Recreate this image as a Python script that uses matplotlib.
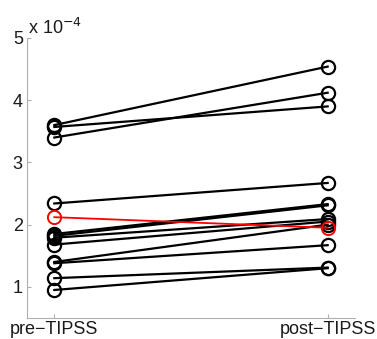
import matplotlib
matplotlib.use('Agg')
import matplotlib.pyplot as plt

plt.rcParams['font.family'] = ['Liberation Sans', 'DejaVu Sans']

# values in units of 1e-4
pre = [3.60, 3.57, 3.40, 2.34, 1.85, 1.82, 1.79, 1.68, 1.40, 1.38, 1.14, 0.95]
post = [4.54, 3.90, 4.12, 2.67, 2.33, 2.31, 2.09, 2.05, 2.00, 1.67, 1.31, 1.30]
red_pre = 2.12
red_post = 1.95
labels = ['pre\u2212TIPSS', 'post\u2212TIPSS']

fig = plt.figure(figsize=(3.77, 3.39), dpi=100)
ax = fig.add_axes([0.0716, 0.062, 0.870, 0.826])

for a, b in zip(pre, post):
    ax.plot([1, 2], [a, b], '-o', color='black', lw=1.6, ms=9.5,
            mfc='none', mew=1.6)
ax.plot([1, 2], [red_pre, red_post], '-o', color='red', lw=1.3, ms=9.5,
        mfc='none', mew=1.4)

ax.set_xlim(0.9, 2.1)
ax.set_ylim(0.5, 5)
ax.set_xticks([1, 2])
ax.set_xticklabels(labels)
ax.set_yticks([1, 2, 3, 4, 5])

for s in ['top', 'right']:
    ax.spines[s].set_visible(False)
for s in ['left', 'bottom']:
    ax.spines[s].set_color('#b0b0b0')
    ax.spines[s].set_linewidth(0.8)
ax.tick_params(direction='in', length=3, color='#b0b0b0', labelsize=13,
               labelcolor='#1a1a1a')
ax.tick_params(axis='y', pad=3)
ax.tick_params(axis='x', pad=2)

ax.text(0.003, 1.0, 'x 10$^{\u22124}$', transform=ax.transAxes, fontsize=13,
        color='#1a1a1a', ha='left', va='bottom')

fig.savefig('out.png', dpi=100)
